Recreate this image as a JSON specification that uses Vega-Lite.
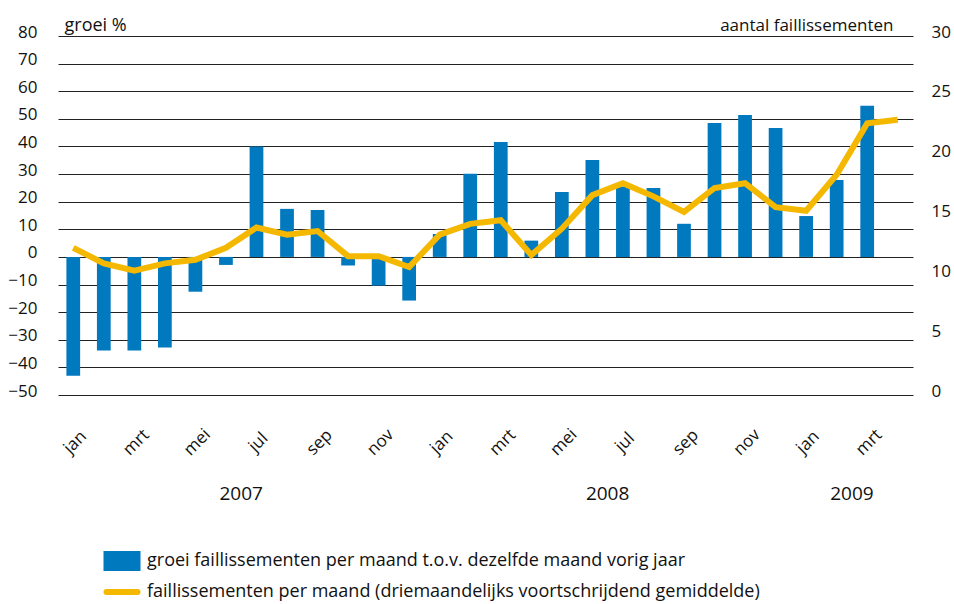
{
  "$schema": "https://vega.github.io/schema/vega-lite/v6.json",
  "autosize": {"type": "none"},
  "padding": {"left": 58, "top": 36, "right": 41, "bottom": 209},
  "width": 855,
  "height": 359,
  "config": {
    "font": "Open Sans",
    "view": {"stroke": null},
    "axis": {"labelColor": "#111", "titleColor": "#111", "labelFontSize": 17, "titleFontSize": 17, "titleFontWeight": "normal", "labelFont": "Open Sans", "titleFont": "Open Sans"},
    "legend": {"labelFont": "Open Sans"}
  },
  "data": {"values": [
    {"maand": "jan 2007", "groei": -43.0, "faill": 12.3},
    {"maand": "feb 2007", "groei": -33.9, "faill": 11.0},
    {"maand": "mrt 2007", "groei": -33.9, "faill": 10.4},
    {"maand": "apr 2007", "groei": -32.8, "faill": 11.0},
    {"maand": "mei 2007", "groei": -12.6, "faill": 11.3},
    {"maand": "jun 2007", "groei": -2.9, "faill": 12.3},
    {"maand": "jul 2007", "groei": 40.0, "faill": 14.0},
    {"maand": "aug 2007", "groei": 17.4, "faill": 13.4},
    {"maand": "sep 2007", "groei": 17.0, "faill": 13.7},
    {"maand": "okt 2007", "groei": -3.1, "faill": 11.6},
    {"maand": "nov 2007", "groei": -10.4, "faill": 11.6},
    {"maand": "dec 2007", "groei": -15.8, "faill": 10.7},
    {"maand": "jan 2008", "groei": 8.3, "faill": 13.4},
    {"maand": "feb 2008", "groei": 30.1, "faill": 14.3},
    {"maand": "mrt 2008", "groei": 41.6, "faill": 14.6},
    {"maand": "apr 2008", "groei": 5.9, "faill": 11.7},
    {"maand": "mei 2008", "groei": 23.5, "faill": 13.9},
    {"maand": "jun 2008", "groei": 35.1, "faill": 16.7},
    {"maand": "jul 2008", "groei": 25.5, "faill": 17.7},
    {"maand": "aug 2008", "groei": 25.0, "faill": 16.6},
    {"maand": "sep 2008", "groei": 12.0, "faill": 15.3},
    {"maand": "okt 2008", "groei": 48.5, "faill": 17.3},
    {"maand": "nov 2008", "groei": 51.4, "faill": 17.7},
    {"maand": "dec 2008", "groei": 46.7, "faill": 15.7},
    {"maand": "jan 2009", "groei": 14.8, "faill": 15.4},
    {"maand": "feb 2009", "groei": 27.9, "faill": 18.4},
    {"maand": "mrt 2009", "groei": 54.7, "faill": 22.7},
    {"maand": "apr 2009", "groei": null, "faill": 23.0}
  ]},
  "layer": [
    {
      "mark": {"type": "bar", "width": {"band": 0.45}},
      "encoding": {
        "x": {
          "field": "maand", "type": "ordinal", "sort": null,
          "scale": {"paddingInner": 0, "paddingOuter": 0},
          "axis": {
            "orient": "bottom", "title": null, "domain": false, "ticks": false, "tickSize": 0, "grid": false,
            "labelAngle": -45, "labelAlign": "center", "labelBaseline": "middle", "labelPadding": 47,
            "labelFontSize": 17, "labelOffset": 2,
            "labelOverlap": false, "labelBound": false,
            "labelExpr": "indexof(['jan','mrt','mei','jul','sep','nov'], split(datum.value, ' ')[0]) >= 0 ? split(datum.value, ' ')[0] : ''"
          }
        },
        "y": {
          "field": "groei", "type": "quantitative",
          "scale": {"domain": [-50, 80], "nice": false, "zero": false},
          "axis": {
            "orient": "left", "values": [-50, -40, -30, -20, -10, 0, 10, 20, 30, 40, 50, 60, 70, 80],
            "grid": true, "gridColor": "#222", "gridWidth": 1, "domain": false, "ticks": false, "tickSize": 0,
            "labelPadding": 21, "labelBaseline": "alphabetic", "labelOffset": 1,
            "title": "groei %", "titleFontSize": 18, "titleAngle": 0, "titleAlign": "left", "titleBaseline": "alphabetic", "titleX": 6, "titleY": -6
          }
        },
        "color": {
          "datum": "groei faillissementen per maand t.o.v. dezelfde maand vorig jaar",
          "scale": {
            "domain": ["groei faillissementen per maand t.o.v. dezelfde maand vorig jaar", "faillissementen per maand (driemaandelijks voortschrijdend gemiddelde)"],
            "range": ["#0079bf", "#f5b800"]
          },
          "legend": {
            "orient": "none", "legendX": 55, "legendY": 516, "title": null, "direction": "vertical", "columns": 1,
            "symbolSize": 100, "symbolStrokeWidth": 0, "rowPadding": 0, "labelOffset": 16, "labelFontSize": 18, "labelColor": "#111", "labelLimit": 800,
            "encode": {"symbols": {"update": {
              "shape": {"signal": "datum.value === 'groei faillissementen per maand t.o.v. dezelfde maand vorig jaar' ? 'M-3.1,-1.4H3.1V1.4H-3.1Z' : 'M-3.1,0H3.1'"},
              "fill": {"signal": "datum.value === 'groei faillissementen per maand t.o.v. dezelfde maand vorig jaar' ? '#0079bf' : 'transparent'"},
              "stroke": {"signal": "datum.value === 'groei faillissementen per maand t.o.v. dezelfde maand vorig jaar' ? 'transparent' : '#f5b800'"},
              "strokeWidth": {"value": 6},
              "strokeCap": {"value": "round"},
              "opacity": {"value": 1}
            }}}
          }
        }
      }
    },
    {
      "mark": {"type": "line", "strokeWidth": 6, "strokeJoin": "miter", "strokeCap": "butt"},
      "encoding": {
        "x": {
          "field": "maand", "type": "ordinal", "sort": null,
          "axis": {
            "orient": "bottom", "title": null, "domain": false, "ticks": false, "tickSize": 0, "grid": false,
            "labelAngle": 0, "labelAlign": "center", "labelBaseline": "middle", "labelPadding": 98, "labelOffset": -15.3,
            "labelFontSize": 19, "labelOverlap": false, "labelBound": false,
            "labelExpr": "datum.value == 'jul 2007' ? '2007' : datum.value == 'jul 2008' ? '2008' : datum.value == 'mrt 2009' ? '2009' : ''"
          }
        },
        "y": {
          "field": "faill", "type": "quantitative",
          "scale": {"domain": [0, 30], "nice": false, "zero": false},
          "axis": {
            "orient": "right", "values": [0, 5, 10, 15, 20, 25, 30],
            "grid": false, "domain": false, "ticks": false, "tickSize": 0,
            "labelPadding": 18, "labelAlign": "left", "labelBaseline": "alphabetic", "labelOffset": 1,
            "title": "aantal faillissementen", "titleAngle": 0, "titleAlign": "right", "titleBaseline": "alphabetic", "titleX": -20, "titleY": -6
          }
        },
        "color": {"datum": "faillissementen per maand (driemaandelijks voortschrijdend gemiddelde)"}
      }
    }
  ],
  "resolve": {"scale": {"y": "independent"}, "axis": {"x": "independent", "y": "independent"}}
}
